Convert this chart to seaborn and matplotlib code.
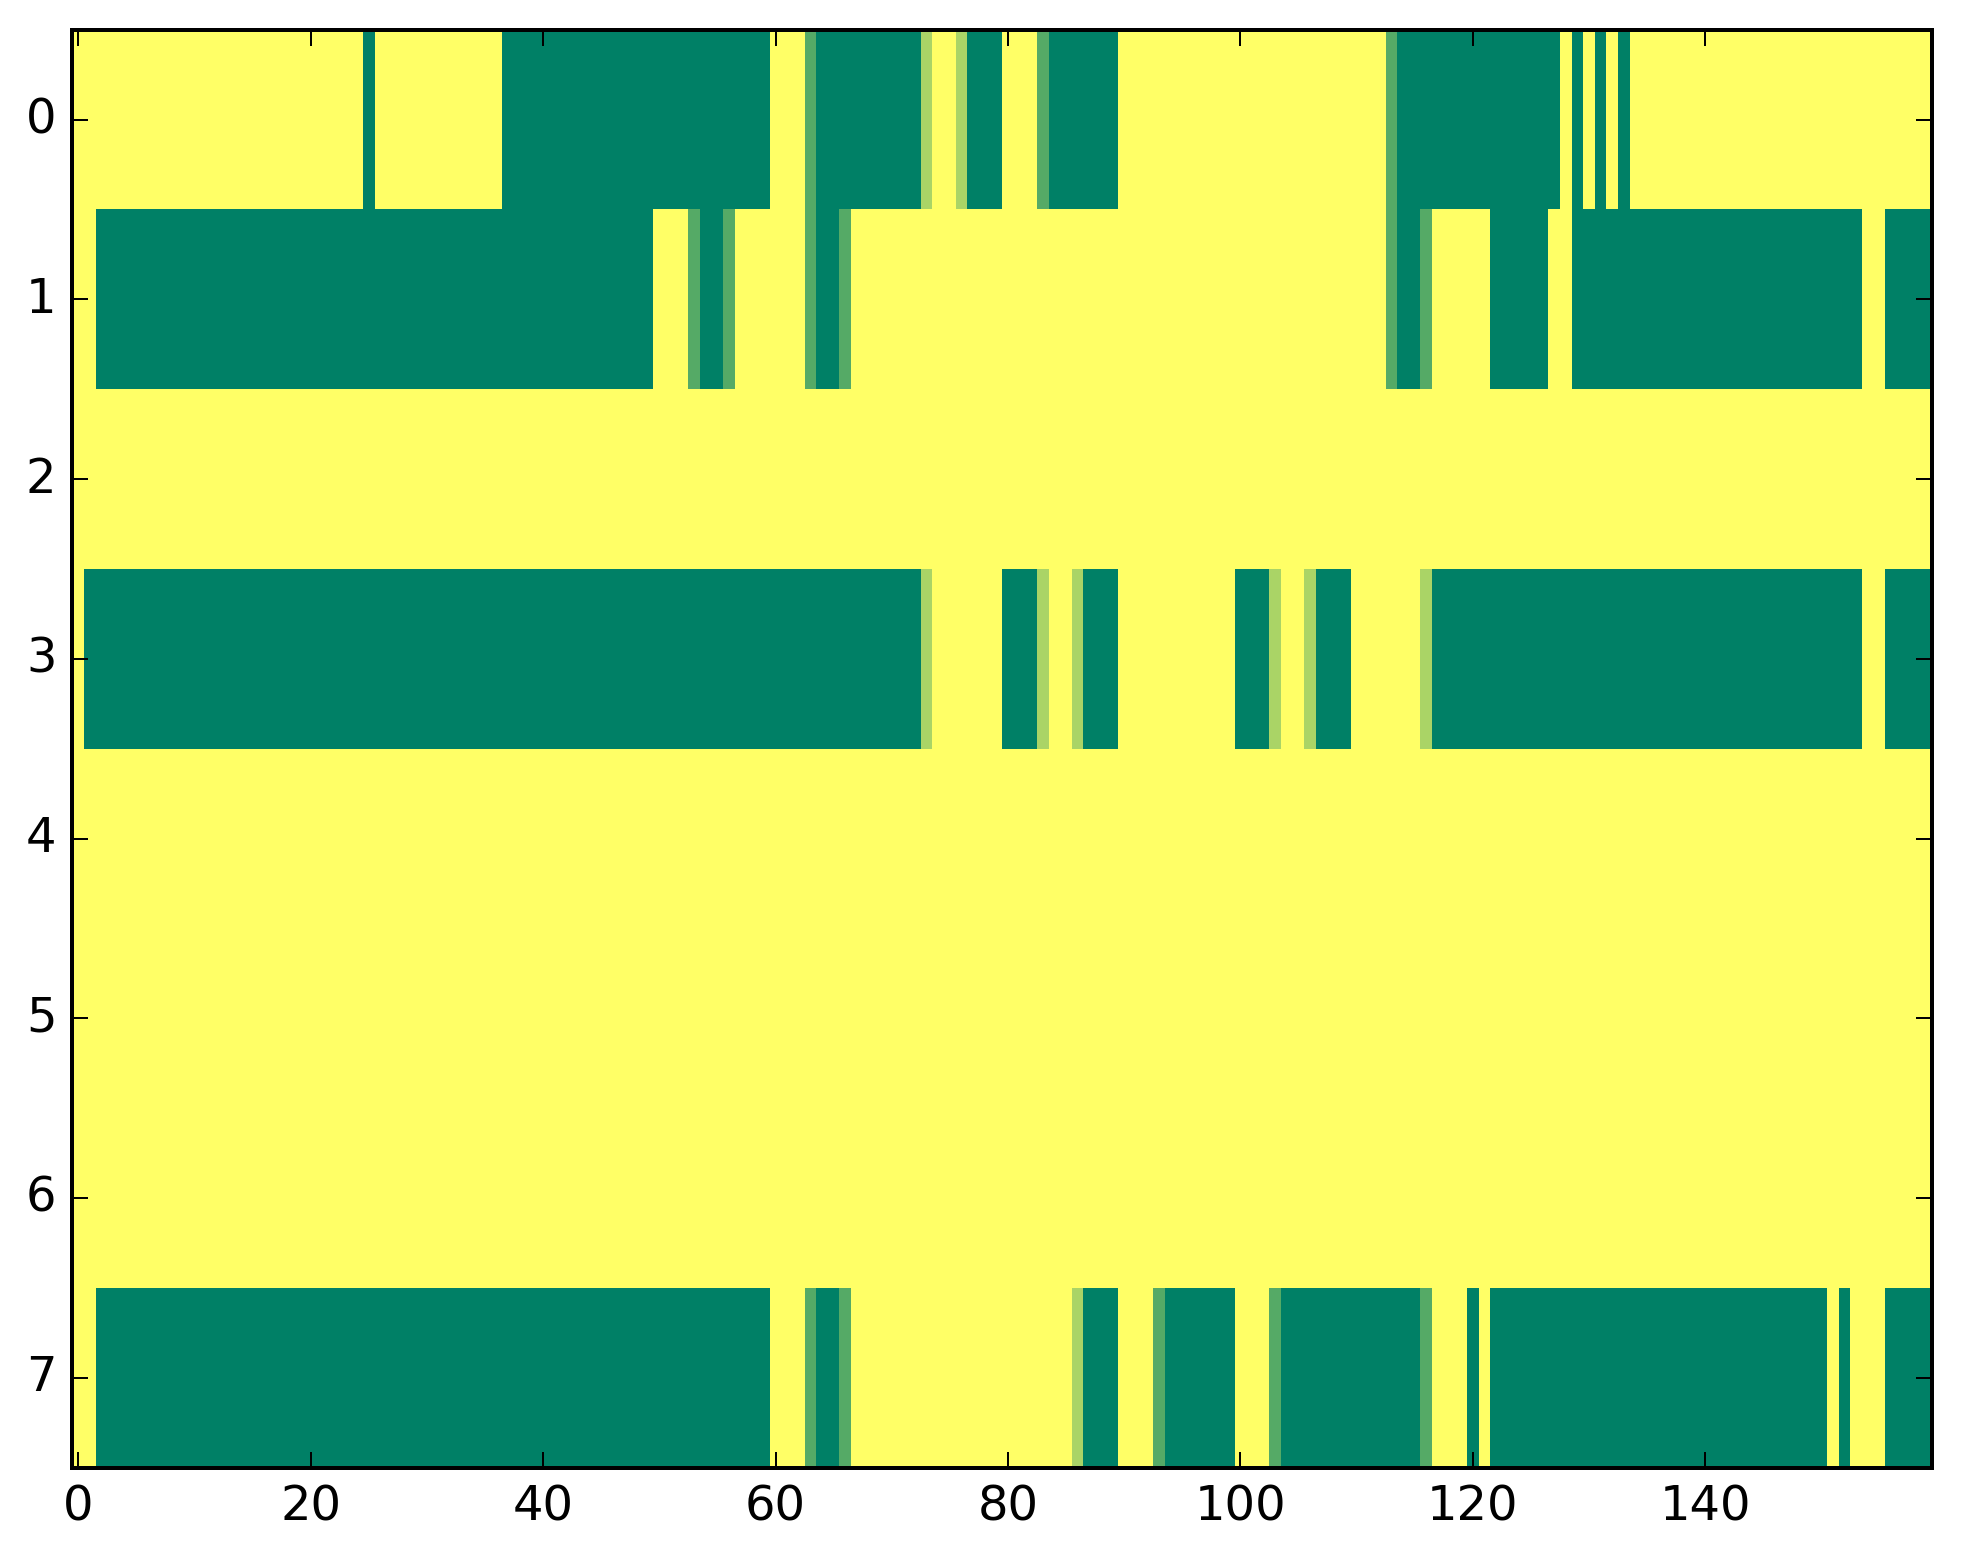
import numpy as np
import matplotlib
matplotlib.use("Agg")
import matplotlib.pyplot as plt
import seaborn as sns

plt.style.use("classic")
plt.rcParams["font.family"] = ["DejaVu Sans"]

# cell codes: Y = 1 (yellow), l = 2/3, m = 1/3, G = 0 (green)
level = {"Y": 1.0, "l": 2 / 3, "m": 1 / 3, "G": 0.0}

# each row as runs of (code, number of consecutive cells)
row0_codes = "YGYGYmGlYlGYmGYmGYGYGYGY"
row0_lens = [25, 1, 11, 23, 3, 1, 9, 1, 2, 1, 3, 3, 1, 6, 23, 1, 14, 1, 1, 1, 1, 1, 1, 26]

row1_codes = "YGYmGmYmGmYmGmYGYGYG"
row1_lens = [2, 48, 3, 1, 2, 1, 6, 1, 2, 1, 46, 1, 2, 1, 5, 5, 2, 25, 2, 4]

row2_codes = "Y"
row2_lens = [160]

row3_codes = "YGlYGlYlGYGlYlGYlGYG"
row3_lens = [1, 72, 1, 6, 3, 1, 2, 1, 3, 10, 3, 1, 2, 1, 3, 6, 1, 37, 2, 4]

row4_codes = "Y"
row4_lens = [160]
row5_codes = "Y"
row5_lens = [160]
row6_codes = "Y"
row6_lens = [160]

row7_codes = "YGYmGmYlGYmGYmGmYGYGYGYG"
row7_lens = [2, 58, 3, 1, 2, 1, 19, 1, 3, 3, 1, 6, 3, 1, 12, 1, 3, 1, 1, 29, 1, 1, 3, 4]

x_ticks = [0, 20, 40, 60, 80, 100, 120, 140]
y_ticks = [0, 1, 2, 3, 4, 5, 6, 7]

rows_codes = [row0_codes, row1_codes, row2_codes, row3_codes,
              row4_codes, row5_codes, row6_codes, row7_codes]
rows_lens = [row0_lens, row1_lens, row2_lens, row3_lens,
             row4_lens, row5_lens, row6_lens, row7_lens]

data = np.vstack([
    np.repeat([level[c] for c in codes], lens)
    for codes, lens in zip(rows_codes, rows_lens)
])

fig = plt.figure(figsize=(1963 / 288, 1564 / 288), dpi=288, facecolor="white")
ax = fig.add_axes([0.0369, 0.0615, 0.9472, 0.9195])
sns.heatmap(data, cmap="summer", vmin=0, vmax=1, cbar=False, ax=ax,
            xticklabels=False, yticklabels=False)

ax.set_xticks(np.array(x_ticks) + 0.5)
ax.set_xticklabels([str(v) for v in x_ticks], rotation=0)
ax.set_yticks(np.array(y_ticks) + 0.5)
ax.set_yticklabels([str(v) for v in y_ticks], rotation=0, va="center")

ax.tick_params(direction="in", top=True, right=True, bottom=True, left=True,
               labelsize=12, length=4, width=0.5, pad=4, colors="black")
for s in ax.spines.values():
    s.set_visible(True)
    s.set_linewidth(1.0)
    s.set_color("black")

fig.savefig("out.png", dpi=288, facecolor="white")
